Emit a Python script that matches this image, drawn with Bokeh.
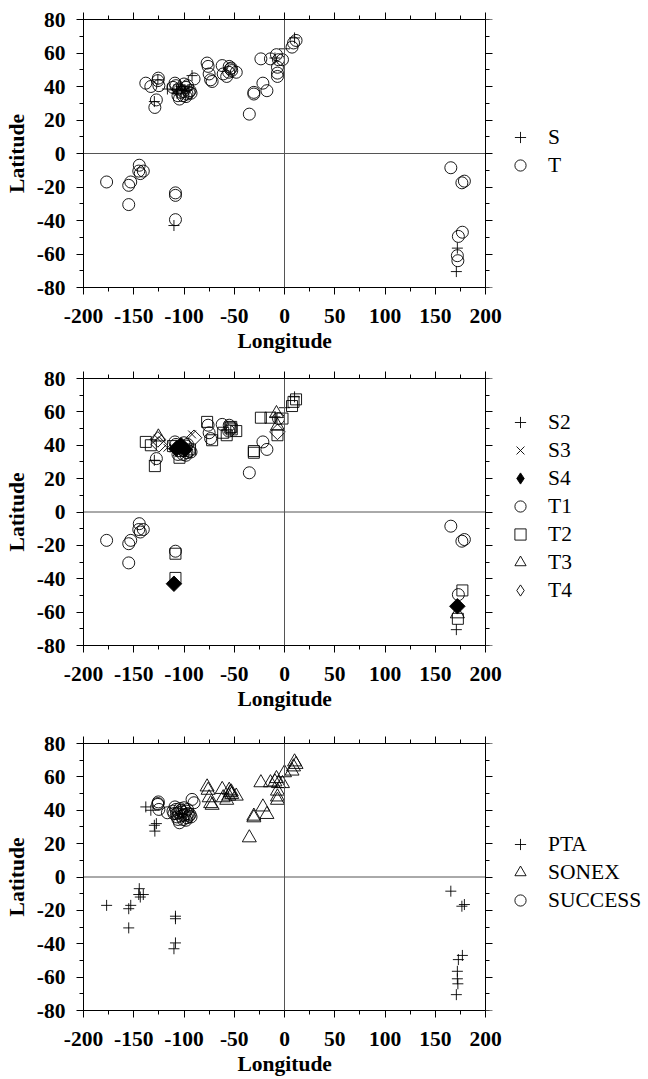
import math
from bokeh.plotting import figure
from bokeh.models import (Range1d, LinearAxis, FixedTicker, Span, Legend,
                          LegendItem, CustomJSTickFormatter, Title)
from bokeh.layouts import column
from bokeh.embed import file_html
from bokeh.resources import INLINE

# ---------------- data ----------------
# PTA
pta_lon = [-177, -155, -153, -155, -144.5, -145, -140.5, -143.5, -108.5, -108.5, -108.5, -110,
           165.5, 176.5, 179, 177, 173, 172, 172, 172.5, 171,
           -138, -133, -127.5, -129.5, -129]
pta_lat = [-17, -19, -17, -30.5, -7, -10.5, -10.5, -12, -23.5, -25, -39.5, -43,
           -8.5, -17.5, -16.5, -47, -49.5, -56.5, -61, -64, -70.5,
           42, 40, 32, 31, 27.5]
pta_type = ["T1", "T1", "T1", "T1", "T1", "T1", "T1", "T1", "T1", "T2", "T2", "S4",
            "T1", "T1", "T1", "T2", "T1", "S4", "T3", "T2", "S2",
            "T2", "T2", "T1", "S2", "T2"]

# SUCCESS
success_lon = [-125.5, -126, -125, -126, -116.5, -90, -92, -104.5,
               -110, -108, -107, -105.5, -104, -103, -102, -101, -100, -99, -98, -97,
               -96, -95, -94, -93, -106, -109, -111, -103, -100.5, -98, -107.5, -96.5]
success_lat = [45, 43.5, 40.5, 44, 38.5, 44.5, 46.5, 32.5,
               38, 40.5, 36, 38.5, 41, 36.5, 39, 34.5, 41.5, 37.5, 39.5, 35.5,
               38, 36.5, 37.5, 36, 34.5, 42, 39.5, 40, 37, 34, 38, 40.5]
success_type = ["T3", "T4", "T4", "S3", "S3", "T4", "S3", "T2",
                "S3", "T1", "S3", "T1", "S3", "T2", "S3", "T1", "T1", "S4", "T1", "T1",
                "S3", "T1", "T2", "T1", "T1", "T1", "T2", "S4", "T1", "T1", "S4", "T1"]

# SONEX
sonex_lon = [-77, -76, -75, -72, -73.5, -62, -61, -57.5, -55, -54, -52.5, -55.5, -48, -53,
             -35, -30.5, -30.5, -21.5, -17.5, -23.5, -14, -8, -6, -7, -7, -7, -2,
             0, -9.5, 7.5, 9, 11.5, 10]
sonex_lat = [54, 52, 47.5, 43, 44, 52.5, 47.5, 46, 52, 50.5, 49.5, 48.5, 48.5, 51,
             23.5, 36.5, 35.5, 42, 37.5, 56.5, 56.5, 59, 56, 51.5, 48, 46, 56,
             62.5, 57, 63.5, 66, 67.5, 69]
sonex_type = ["T2", "T1", "T1", "T2", "T1", "T1", "T2", "T2", "T1", "T2", "T2", "T1", "T2", "T2",
              "T1", "T2", "T2", "T1", "T1", "T2", "T2", "T3", "T1", "T3", "T4", "T2", "T2",
              "S2", "S2", "T2", "T2", "T2", "S2"]

missions = ["PTA", "SONEX", "SUCCESS"]
types2 = ["S2", "S3", "S4", "T1", "T2", "T3", "T4"]
types1 = ["S", "T"]

x_major = [-200, -150, -100, -50, 0, 50, 100, 150, 200]
x_minor = [-200, -175, -150, -125, -100, -75, -50, -25, 0, 25, 50, 75, 100, 125, 150, 175, 200]
y_major = [-80, -60, -40, -20, 0, 20, 40, 60, 80]
y_minor = [-80, -70, -60, -50, -40, -30, -20, -10, 0, 10, 20, 30, 40, 50, 60, 70, 80]

# ---------------- assemble table ----------------
all_lon = pta_lon + sonex_lon + success_lon
all_lat = pta_lat + sonex_lat + success_lat
all_type = pta_type + sonex_type + success_type
all_mis = (["PTA"] * len(pta_lon) + ["SONEX"] * len(sonex_lon) + ["SUCCESS"] * len(success_lon))

SERIF = "Liberation Serif"
FS = "21.5px"
LW = 0.9
Q = math.pi / 4
XMIN, XMAX = x_major[0], x_major[-1]
YMIN, YMAX = y_major[0], y_major[-1]
BOX_PX = 402  # pixel width of the lon -200..200 box

styles = {
    "S": dict(marker="cross", size=11, fill_color=None, angle=0),
    "T": dict(marker="circle", size=12, fill_color=None, angle=0),
    "S2": dict(marker="cross", size=11, fill_color=None, angle=0),
    "S3": dict(marker="x", size=11, fill_color=None, angle=0),
    "S4": dict(marker="square", size=11, fill_color="black", angle=Q),
    "T1": dict(marker="circle", size=12, fill_color=None, angle=0),
    "T2": dict(marker="square", size=11, fill_color=None, angle=0),
    "T3": dict(marker="triangle", size=14, fill_color=None, angle=0),
    "T4": dict(marker="square", size=11, fill_color=None, angle=Q),
    "PTA": dict(marker="cross", size=11, fill_color=None, angle=0),
    "SONEX": dict(marker="triangle", size=14, fill_color=None, angle=0),
    "SUCCESS": dict(marker="circle", size=12, fill_color=None, angle=0),
}


def style_axis(ax, labels=True):
    ax.axis_line_color = "black"
    ax.axis_line_width = 1
    ax.major_tick_line_color = "black"
    ax.minor_tick_line_color = "black"
    ax.major_tick_in = 0
    ax.major_tick_out = 7
    ax.minor_tick_in = 0
    ax.minor_tick_out = 4
    if labels:
        ax.formatter = CustomJSTickFormatter(code="return tick.toString()")
        ax.major_label_text_font = SERIF
        ax.major_label_text_font_style = "bold"
        ax.major_label_text_font_size = FS
        ax.major_label_text_color = "black"
        ax.axis_label_text_font = SERIF
        ax.axis_label_text_font_style = "bold"
        ax.axis_label_text_font_size = FS
        ax.axis_label_text_color = "black"
    else:
        ax.major_label_text_font_size = "0px"
        ax.major_label_standoff = 0
        ax.axis_label_standoff = 0
        ax.formatter = CustomJSTickFormatter(code="return ''")


def keys_for(kind):
    if kind == "st":
        return [t[0] for t in all_type]
    if kind == "type":
        return all_type
    return all_mis


def make_fig(groups, kind, min_left, min_top, min_bottom, frame_h, leg_xy):
    frame_w = 648 - min_left - 7
    x_end = XMIN + frame_w * (XMAX - XMIN) / BOX_PX
    p = figure(frame_width=frame_w, frame_height=frame_h,
               min_border_left=min_left, min_border_right=0,
               min_border_top=min_top, min_border_bottom=min_bottom,
               x_range=Range1d(XMIN, x_end), y_range=Range1d(YMIN, YMAX),
               output_backend="svg", toolbar_location=None,
               y_axis_label="Latitude")
    p.grid.visible = False
    p.outline_line_color = None
    p.background_fill_color = "white"
    p.border_fill_color = "white"

    p.xaxis.ticker = FixedTicker(ticks=x_major, minor_ticks=x_minor)
    p.yaxis.ticker = FixedTicker(ticks=y_major, minor_ticks=y_minor)
    style_axis(p.xaxis[0])
    style_axis(p.yaxis[0])
    p.xaxis.bounds = (XMIN, XMAX)
    p.xaxis.major_label_standoff = 14
    p.yaxis.major_label_standoff = 11
    p.yaxis.axis_label_standoff = 5

    # x-axis title centred under the lon box (not under the legend area)
    p.add_layout(Title(text="Longitude", align="left", offset=154, standoff=3,
                       text_font=SERIF, text_font_style="bold", text_font_size=FS,
                       text_color="black"), "below")

    top = LinearAxis(ticker=FixedTicker(ticks=x_major, minor_ticks=x_minor),
                     bounds=(XMIN, XMAX))
    style_axis(top, labels=False)
    p.add_layout(top, "above")
    right = LinearAxis(ticker=FixedTicker(ticks=y_major, minor_ticks=y_minor),
                       fixed_location=XMAX)
    style_axis(right, labels=False)
    p.add_layout(right, "right")

    p.add_layout(Span(location=0, dimension="height", line_color="#555555", line_width=1))
    p.line(x=[XMIN, XMAX], y=[0, 0], line_color="#555555", line_width=1)

    keys = keys_for(kind)
    items = []
    for g in groups:
        xs = [x for x, k in zip(all_lon, keys) if k == g]
        ys = [y for y, k in zip(all_lat, keys) if k == g]
        st = styles[g]
        r = p.scatter(x=xs, y=ys, marker=st["marker"], size=st["size"],
                      angle=st["angle"], line_color="black", line_width=LW,
                      fill_color=st["fill_color"])
        if st["angle"] != 0:
            # legend glyphs ignore the angle: use a diamond swatch (drawn off-range)
            r = p.scatter(x=[x_end * 10], y=[0], marker="diamond", size=16,
                          line_color="black", line_width=LW,
                          fill_color=st["fill_color"])
        items.append(LegendItem(label=g, renderers=[r]))

    leg = Legend(items=items, location=leg_xy, orientation="vertical",
                 glyph_width=28, glyph_height=28, spacing=-1, label_standoff=14,
                 label_text_font=SERIF, label_text_font_size=FS, label_height=20,
                 label_text_color="black",
                 padding=0, margin=0, border_line_color=None,
                 background_fill_alpha=0, border_line_alpha=0)
    p.add_layout(leg)
    return p


p1 = make_fig(types1, "st", 82, 19, 80, 268, (424, 108))
p2 = make_fig(types2, "type", 83, 11, 87, 267, (423, 41))
p3 = make_fig(missions, "mis", 83, 11, 69, 267, (423, 96))

layout = column(p1, p2, p3, spacing=0)
open("out.html", "w").write(file_html(layout, INLINE))
